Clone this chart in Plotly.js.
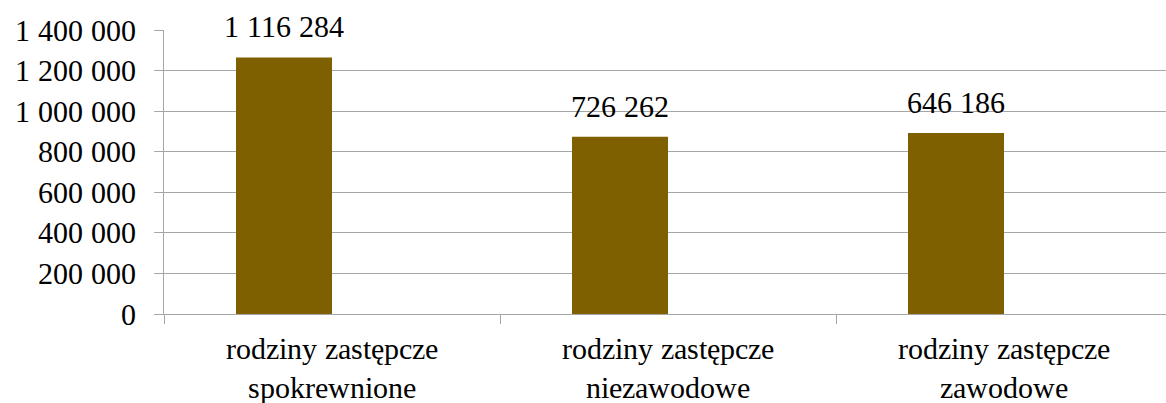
<!DOCTYPE html>
<html>
<head>
<meta charset="utf-8">
<script src="https://cdn.plot.ly/plotly-3.0.1.min.js"></script>
<style>
@font-face{font-family:"RefSerif";src:local("Liberation Serif"),local("LiberationSerif-Regular"),local("LiberationSerif"),local("Times New Roman"),local("DejaVu Serif");}
html,body{margin:0;padding:0;overflow:hidden;background:#fff;}
#chart{width:1172px;height:403px;}
</style>
</head>
<body>
<div id="chart"></div>
<script>
const categories = ["rodziny zastępcze<br>spokrewnione", "rodziny zastępcze<br>niezawodowe", "rodziny zastępcze<br>zawodowe"];
const barValues = [1265000, 874000, 892000];
const labelTexts = ["1 116 284", "726 262", "646 186"];
const yTickVals = [0, 200000, 400000, 600000, 800000, 1000000, 1200000, 1400000];
const yTickText = ["0", "200 000", "400 000", "600 000", "800 000", "1 000 000", "1 200 000", "1 400 000"];

const font = {family: "RefSerif, 'Liberation Serif', 'DejaVu Serif', serif", size: 30, color: "#000"};
const grey = "#a6a6a6";

const traces = [
  {type: "bar", x: categories, y: barValues, marker: {color: "#7F6000"}, hoverinfo: "none"},
  {type: "bar", x: categories, y: categories.map(() => null), marker: {color: "#7F6000"}, hoverinfo: "none"}
];

const annotations = categories.map((c, i) => ({
  x: c, y: barValues[i], xref: "x", yref: "y",
  text: labelTexts[i], showarrow: false, xanchor: "center", yanchor: "bottom",
  xshift: -48, yshift: 12, font: font
}));

const layout = {
  width: 1172, height: 403,
  margin: {l: 164, r: 0, t: 30, b: 89},
  paper_bgcolor: "#fff", plot_bgcolor: "#fff",
  barmode: "group", bargap: 0.4286, bargroupgap: 0,
  showlegend: false,
  font: font,
  xaxis: {
    type: "category", tickson: "boundaries", ticks: "outside", ticklen: 9, tickcolor: grey, tickwidth: 1,
    showline: true, linecolor: grey, linewidth: 1, showgrid: false, zeroline: false,
    tickfont: font, ticklabelstandoff: 8, fixedrange: true
  },
  yaxis: {
    range: [0, 1400000], tickvals: yTickVals, ticktext: yTickText,
    ticks: "outside", ticklen: 9, tickcolor: grey, tickwidth: 1,
    showline: true, linecolor: grey, linewidth: 1,
    showgrid: true, gridcolor: grey, gridwidth: 1, zeroline: false,
    tickfont: font, ticklabelstandoff: 12, fixedrange: true
  },
  annotations: annotations
};

function draw(){ Plotly.newPlot("chart", traces, layout, {displayModeBar: false, staticPlot: true}); }
if (document.fonts && document.fonts.load) {
  document.fonts.load("30px RefSerif").then(draw, draw);
} else { draw(); }
</script>
</body>
</html>
